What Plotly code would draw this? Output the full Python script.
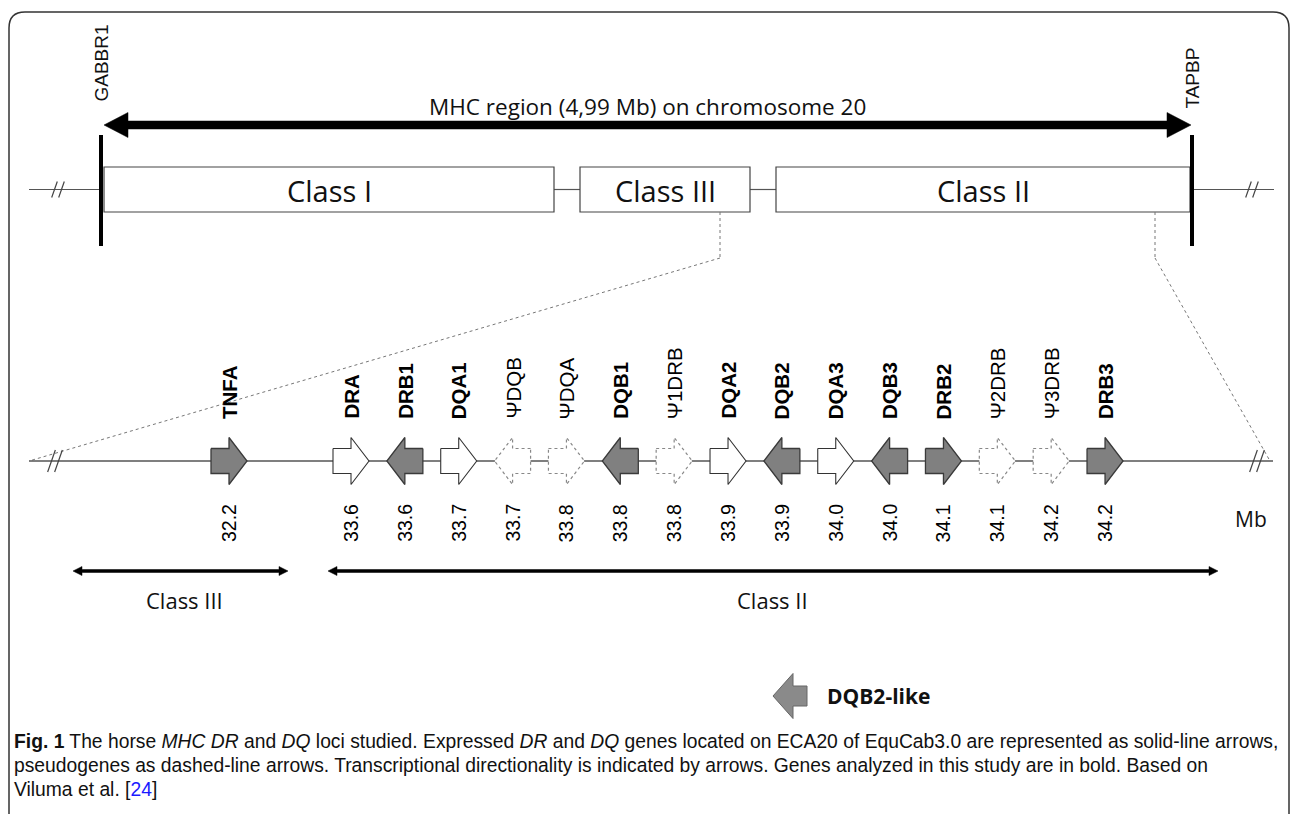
import plotly.graph_objects as go

# ---------------- data ----------------
genes = ["TNFA", "DRA", "DRB1", "DQA1", "ΨDQB", "ΨDQA", "DQB1", "Ψ1DRB",
         "DQA2", "DQB2", "DQA3", "DQB3", "DRB2", "Ψ2DRB", "Ψ3DRB", "DRB3"]
mb_pos = [32.2, 33.6, 33.6, 33.7, 33.7, 33.8, 33.8, 33.8,
          33.9, 33.9, 34.0, 34.0, 34.1, 34.1, 34.2, 34.2]
strand = [1, 1, -1, 1, -1, 1, -1, 1, 1, -1, 1, -1, 1, 1, 1, 1]
gene_class = ["III"] + ["II"] * 15
analyzed = [True, True, True, True, False, False, True, False,
            True, True, True, True, True, False, False, True]
pseudogene = [False, False, False, False, True, True, False, True,
              False, False, False, False, False, True, True, False]
filled = [True, False, True, False, False, False, True, False,
          False, True, False, True, True, False, False, True]

region_names = ["Class I", "Class III", "Class II"]
flank_genes = ["GABBR1", "TAPBP"]
region_title = "MHC region (4,99 Mb) on chromosome 20"
detail_classes = ["Class III", "Class II"]
unit_label = "Mb"
legend_label = "DQB2-like"
caption_lines = [
    "<b>Fig. 1</b> The horse <i>MHC DR</i> and <i>DQ</i> loci studied. Expressed <i>DR</i> and <i>DQ</i> genes located on ECA20 of EquCab3.0 are represented as solid-line arrows,",
    "pseudogenes as dashed-line arrows. Transcriptional directionality is indicated by arrows. Genes analyzed in this study are in bold. Based on",
    "Viluma et al. [<span style='color:#1a1aff'>24</span>]",
]

# ---------------- layout constants (pixel space) ----------------
W, H = 1292, 814
FONT_CAL = "Open Sans"
FONT_ARIAL = "Liberation Sans"
BOX_X = [(104, 554), (580, 750), (776, 1190)]
BOX_Y = (167, 212)
CHROM_Y = 189.5
FLANK_X = [101, 1192]
GENE_Y = 461
CLASS3_X = 229
CLASS2_X0 = 351
GENE_STEP = 53.86
CLASS_ARROW_X = [(73, 288), (328, 1218)]
CLASS_ARROW_Y = 571
GREY_FILL = "#808080"
DARK_EDGE = "#3a3a3a"

fig = go.Figure()
shapes = []
annotations = []


def line(x0, y0, x1, y1, color="#444", width=1.5, dash="solid"):
    shapes.append(dict(type="line", xref="x", yref="y", x0=x0, y0=y0, x1=x1, y1=y1,
                       line=dict(color=color, width=width, dash=dash), layer="below"))


def poly(xs, ys, fillcolor, color, width=1.2, dash="solid"):
    fig.add_trace(go.Scatter(x=xs, y=ys, mode="lines", fill="toself",
                             fillcolor=fillcolor, line=dict(color=color, width=width, dash=dash),
                             hoverinfo="skip", showlegend=False))


def gene_arrow(cx, cy, d, L=36, HL=18, b=12.5, h=23.5):
    tail = cx - d * L / 2
    neck = cx + d * (L / 2 - HL)
    tip = cx + d * L / 2
    xs = [tail, neck, neck, tip, neck, neck, tail, tail]
    ys = [cy - b, cy - b, cy - h, cy, cy + h, cy + b, cy + b, cy - b]
    return xs, ys


def double_arrow(x0, x1, cy, s, hl, hh):
    xs = [x0, x0 + hl, x0 + hl, x1 - hl, x1 - hl, x1, x1 - hl, x1 - hl, x0 + hl, x0 + hl, x0]
    ys = [cy, cy - hh, cy - s, cy - s, cy - hh, cy, cy + hh, cy + s, cy + s, cy + hh, cy]
    return xs, ys


def slash_pair(cx, cy, half):
    for off in (-3.5, 3.5):
        line(cx + off - half * 0.35, cy + half, cx + off + half * 0.35, cy - half,
             color="#444", width=1.2)


# frame
shapes.append(dict(type="path", xref="x", yref="y",
                   path="M 9,840 L 9,28 Q 9,12 25,12 L 1273,12 Q 1289,12 1289,28 L 1289,840",
                   line=dict(color="#333", width=1.5), layer="below"))

# ---- top overview ----
line(29, CHROM_Y, FLANK_X[0], CHROM_Y, color="#555", width=1.2)
line(FLANK_X[1], CHROM_Y, 1274, CHROM_Y, color="#555", width=1.2)
slash_pair(58, CHROM_Y, 8)
slash_pair(1252, CHROM_Y, 8)
for (a, b_), (c, _) in zip(BOX_X[:-1], BOX_X[1:]):
    line(b_, CHROM_Y, c, CHROM_Y, color="#555", width=1.2)

for (x0, x1), name in zip(BOX_X, region_names):
    shapes.append(dict(type="rect", xref="x", yref="y", x0=x0, x1=x1, y0=BOX_Y[0], y1=BOX_Y[1],
                       line=dict(color="#444", width=1.2), fillcolor="white", layer="below"))
    annotations.append(dict(x=(x0 + x1) / 2, y=(BOX_Y[0] + BOX_Y[1]) / 2 + 1, text=name,
                            showarrow=False, font=dict(family=FONT_CAL, size=29, color="#111")))

for fx, name in zip(FLANK_X, flank_genes):
    line(fx, 135, fx, 246, color="#000", width=4)
    annotations.append(dict(x=fx, y=104 if name == "GABBR1" else 111, text=name, textangle=-90,
                            showarrow=False, yanchor="bottom", xanchor="center",
                            font=dict(family=FONT_ARIAL, size=19, color="#111")))

xs, ys = double_arrow(104, 1191, 125, 4, 24, 12.5)
poly(xs, ys, "#000", "#000", width=0.5)
annotations.append(dict(x=647, y=106, text=region_title, showarrow=False,
                        font=dict(family=FONT_CAL, size=22.5, color="#111")))

line(720, BOX_Y[1], 720, 258, color="#777", width=1, dash="dot")
line(720, 258, 29, GENE_Y, color="#777", width=1, dash="dot")
line(1155, BOX_Y[1], 1155, 258, color="#777", width=1, dash="dot")
line(1155, 258, 1270, GENE_Y, color="#777", width=1, dash="dot")

# ---- detail gene map ----
line(29, GENE_Y, 1273, GENE_Y, color="#555", width=1.3)
slash_pair(55, GENE_Y, 11)
slash_pair(1257, GENE_Y, 11)

k2 = 0
for g, mb, d, cl, bold, pseudo, fill in zip(genes, mb_pos, strand, gene_class,
                                            analyzed, pseudogene, filled):
    if cl == "III":
        cx = CLASS3_X
    else:
        cx = CLASS2_X0 + k2 * GENE_STEP
        k2 += 1
    xs, ys = gene_arrow(cx, GENE_Y, d)
    if fill:
        poly(xs, ys, GREY_FILL, DARK_EDGE, width=1.3)
    elif pseudo:
        poly(xs, ys, "white", "#888", width=1.2, dash="dot")
    else:
        poly(xs, ys, "white", "#333", width=1.1)
    annotations.append(dict(x=cx, y=421, text=(f"<b>{g}</b>" if bold else g), textangle=-90,
                            showarrow=False, yanchor="bottom", xanchor="center",
                            font=dict(family=FONT_ARIAL, size=20.5, color="#000")))
    annotations.append(dict(x=cx, y=502, text=f"{mb:.1f}", textangle=-90,
                            showarrow=False, yanchor="top", xanchor="center",
                            font=dict(family=FONT_ARIAL, size=19.5, color="#000")))

annotations.append(dict(x=1251, y=519, text=unit_label, showarrow=False,
                        font=dict(family=FONT_CAL, size=21, color="#111")))

for (x0, x1), name in zip(CLASS_ARROW_X, detail_classes):
    xs, ys = double_arrow(x0, x1, CLASS_ARROW_Y, 1.5, 9, 4.5)
    poly(xs, ys, "#000", "#000", width=0.5)
annotations.append(dict(x=184, y=600, text=detail_classes[0], showarrow=False,
                        font=dict(family=FONT_CAL, size=22, color="#111")))
annotations.append(dict(x=772, y=600, text=detail_classes[1], showarrow=False,
                        font=dict(family=FONT_CAL, size=22, color="#111")))

lx, ly = 773, 696
xs = [lx, lx + 20, lx + 20, lx + 34, lx + 34, lx + 20, lx + 20, lx]
ys = [ly, ly - 22.5, ly - 10, ly - 10, ly + 10, ly + 10, ly + 22.5, ly]
poly(xs, ys, "#8a8a8a", "#666", width=1)
annotations.append(dict(x=825, y=ly, text=f"<b>{legend_label}</b>", showarrow=False, xanchor="left",
                        font=dict(family=FONT_CAL, size=21, color="#111")))

for i, t in enumerate(caption_lines):
    annotations.append(dict(x=12, y=741 + 24 * i, text=t, showarrow=False, xanchor="left",
                            font=dict(family=FONT_ARIAL, size=19.3, color="#111")))

fig.update_layout(
    width=W, height=H, margin=dict(l=0, r=0, t=0, b=0),
    paper_bgcolor="white", plot_bgcolor="white",
    xaxis=dict(range=[0, W], visible=False, fixedrange=True),
    yaxis=dict(range=[H, 0], visible=False, fixedrange=True),
    shapes=shapes, annotations=annotations, showlegend=False,
)

fig.write_html("out.html", config={"displayModeBar": False},
               post_script="document.body.style.margin='0';document.body.style.overflow='hidden';")
